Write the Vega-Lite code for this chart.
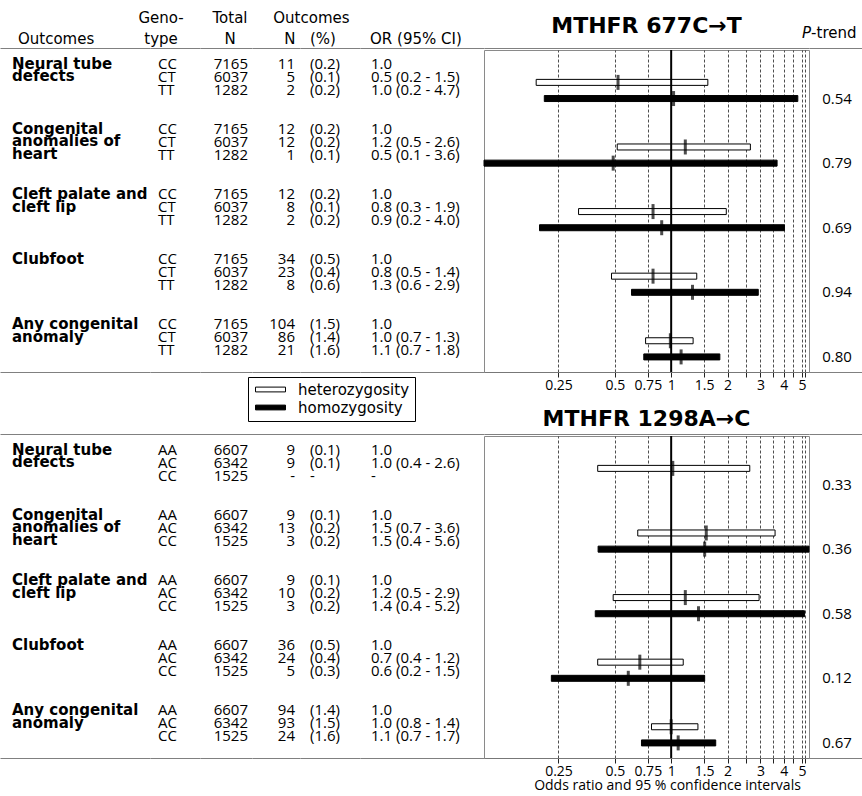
{
  "$schema": "https://vega.github.io/schema/vega-lite/v6.json",
  "padding": 0,
  "background": "white",
  "config": {
    "view": {"stroke": null},
    "font": "Open Sans",
    "text": {"font": "Open Sans", "fontSize": 15, "color": "black"},
    "axis": {"labelFont": "Open Sans", "titleFont": "Open Sans"},
    "legend": {"labelFont": "DejaVu Sans"},
    "concat": {"spacing": 0}
  },
  "datasets": {
    "header": [
      {"col": "outcome", "line": "l2", "text": "Outcomes"},
      {"col": "genotype", "line": "l1", "text": "Geno-"},
      {"col": "genotype", "line": "l2", "text": "type"},
      {"col": "total", "line": "l1", "text": "Total"},
      {"col": "total", "line": "l2", "text": "N"},
      {"col": "n", "line": "l2", "text": "N"},
      {"col": "pct", "line": "l1", "text": "Outcomes"},
      {"col": "pct", "line": "l2", "text": "(%)"},
      {"col": "or", "line": "l2", "text": "OR (95% CI)"},
      {"col": "title1", "line": "t", "text": "MTHFR 677C→T"},
      {"col": "title2", "line": "t", "text": "MTHFR 1298A→C"},
      {"col": "p", "line": "l2", "text": "P"},
      {"col": "p", "line": "l2", "text": "-trend"}
    ],
    "c677t": [
      {"outcome": "Neural tube\ndefects", "level": "reference", "genotype": "CC", "total": "7165", "n": "11", "pct": "(0.2)", "ortext": "1.0", "or": 1},
      {"outcome": "Neural tube\ndefects", "level": "heterozygosity", "genotype": "CT", "total": "6037", "n": "5", "pct": "(0.1)", "ortext": "0.5 (0.2 - 1.5)", "or": 0.52, "lo": 0.19, "hi": 1.57},
      {"outcome": "Neural tube\ndefects", "level": "homozygosity", "genotype": "TT", "total": "1282", "n": "2", "pct": "(0.2)", "ortext": "1.0 (0.2 - 4.7)", "or": 1.03, "lo": 0.21, "hi": 4.75, "p": "0.54"},
      {"outcome": "Congenital\nanomalies of\nheart", "level": "reference", "genotype": "CC", "total": "7165", "n": "12", "pct": "(0.2)", "ortext": "1.0", "or": 1},
      {"outcome": "Congenital\nanomalies of\nheart", "level": "heterozygosity", "genotype": "CT", "total": "6037", "n": "12", "pct": "(0.2)", "ortext": "1.2 (0.5 - 2.6)", "or": 1.19, "lo": 0.515, "hi": 2.65},
      {"outcome": "Congenital\nanomalies of\nheart", "level": "homozygosity", "genotype": "TT", "total": "1282", "n": "1", "pct": "(0.1)", "ortext": "0.5 (0.1 - 3.6)", "or": 0.49, "lo": 0.1, "hi": 3.68, "p": "0.79"},
      {"outcome": "Cleft palate and\ncleft lip", "level": "reference", "genotype": "CC", "total": "7165", "n": "12", "pct": "(0.2)", "ortext": "1.0", "or": 1},
      {"outcome": "Cleft palate and\ncleft lip", "level": "heterozygosity", "genotype": "CT", "total": "6037", "n": "8", "pct": "(0.1)", "ortext": "0.8 (0.3 - 1.9)", "or": 0.8, "lo": 0.32, "hi": 1.97},
      {"outcome": "Cleft palate and\ncleft lip", "level": "homozygosity", "genotype": "TT", "total": "1282", "n": "2", "pct": "(0.2)", "ortext": "0.9 (0.2 - 4.0)", "or": 0.89, "lo": 0.198, "hi": 4.03, "p": "0.69"},
      {"outcome": "Clubfoot", "level": "reference", "genotype": "CC", "total": "7165", "n": "34", "pct": "(0.5)", "ortext": "1.0", "or": 1},
      {"outcome": "Clubfoot", "level": "heterozygosity", "genotype": "CT", "total": "6037", "n": "23", "pct": "(0.4)", "ortext": "0.8 (0.5 - 1.4)", "or": 0.8, "lo": 0.48, "hi": 1.37},
      {"outcome": "Clubfoot", "level": "homozygosity", "genotype": "TT", "total": "1282", "n": "8", "pct": "(0.6)", "ortext": "1.3 (0.6 - 2.9)", "or": 1.3, "lo": 0.614, "hi": 2.92, "p": "0.94"},
      {"outcome": "Any congenital\nanomaly", "level": "reference", "genotype": "CC", "total": "7165", "n": "104", "pct": "(1.5)", "ortext": "1.0", "or": 1},
      {"outcome": "Any congenital\nanomaly", "level": "heterozygosity", "genotype": "CT", "total": "6037", "n": "86", "pct": "(1.4)", "ortext": "1.0 (0.7 - 1.3)", "or": 0.99, "lo": 0.73, "hi": 1.31},
      {"outcome": "Any congenital\nanomaly", "level": "homozygosity", "genotype": "TT", "total": "1282", "n": "21", "pct": "(1.6)", "ortext": "1.1 (0.7 - 1.8)", "or": 1.13, "lo": 0.714, "hi": 1.82, "p": "0.80"}
    ],
    "a1298c": [
      {"outcome": "Neural tube\ndefects", "level": "reference", "genotype": "AA", "total": "6607", "n": "9", "pct": "(0.1)", "ortext": "1.0", "or": 1},
      {"outcome": "Neural tube\ndefects", "level": "heterozygosity", "genotype": "AC", "total": "6342", "n": "9", "pct": "(0.1)", "ortext": "1.0 (0.4 - 2.6)", "or": 1.02, "lo": 0.405, "hi": 2.63},
      {"outcome": "Neural tube\ndefects", "level": "homozygosity", "genotype": "CC", "total": "1525", "n": "-", "pct": "-", "ortext": "-", "p": "0.33"},
      {"outcome": "Congenital\nanomalies of\nheart", "level": "reference", "genotype": "AA", "total": "6607", "n": "9", "pct": "(0.1)", "ortext": "1.0", "or": 1},
      {"outcome": "Congenital\nanomalies of\nheart", "level": "heterozygosity", "genotype": "AC", "total": "6342", "n": "13", "pct": "(0.2)", "ortext": "1.5 (0.7 - 3.6)", "or": 1.54, "lo": 0.663, "hi": 3.59},
      {"outcome": "Congenital\nanomalies of\nheart", "level": "homozygosity", "genotype": "CC", "total": "1525", "n": "3", "pct": "(0.2)", "ortext": "1.5 (0.4 - 5.6)", "or": 1.51, "lo": 0.407, "hi": 5.6, "p": "0.36"},
      {"outcome": "Cleft palate and\ncleft lip", "level": "reference", "genotype": "AA", "total": "6607", "n": "9", "pct": "(0.1)", "ortext": "1.0", "or": 1},
      {"outcome": "Cleft palate and\ncleft lip", "level": "heterozygosity", "genotype": "AC", "total": "6342", "n": "10", "pct": "(0.2)", "ortext": "1.2 (0.5 - 2.9)", "or": 1.19, "lo": 0.49, "hi": 2.95},
      {"outcome": "Cleft palate and\ncleft lip", "level": "homozygosity", "genotype": "CC", "total": "1525", "n": "3", "pct": "(0.2)", "ortext": "1.4 (0.4 - 5.2)", "or": 1.4, "lo": 0.393, "hi": 5.16, "p": "0.58"},
      {"outcome": "Clubfoot", "level": "reference", "genotype": "AA", "total": "6607", "n": "36", "pct": "(0.5)", "ortext": "1.0", "or": 1},
      {"outcome": "Clubfoot", "level": "heterozygosity", "genotype": "AC", "total": "6342", "n": "24", "pct": "(0.4)", "ortext": "0.7 (0.4 - 1.2)", "or": 0.68, "lo": 0.405, "hi": 1.16},
      {"outcome": "Clubfoot", "level": "homozygosity", "genotype": "CC", "total": "1525", "n": "5", "pct": "(0.3)", "ortext": "0.6 (0.2 - 1.5)", "or": 0.59, "lo": 0.229, "hi": 1.51, "p": "0.12"},
      {"outcome": "Any congenital\nanomaly", "level": "reference", "genotype": "AA", "total": "6607", "n": "94", "pct": "(1.4)", "ortext": "1.0", "or": 1},
      {"outcome": "Any congenital\nanomaly", "level": "heterozygosity", "genotype": "AC", "total": "6342", "n": "93", "pct": "(1.5)", "ortext": "1.0 (0.8 - 1.4)", "or": 1.0, "lo": 0.785, "hi": 1.39},
      {"outcome": "Any congenital\nanomaly", "level": "homozygosity", "genotype": "CC", "total": "1525", "n": "24", "pct": "(1.6)", "ortext": "1.1 (0.7 - 1.7)", "or": 1.09, "lo": 0.694, "hi": 1.73, "p": "0.67"}
    ]
  },
  "spacing": 0,
  "resolve": {"scale": {"x": "independent", "y": "independent"}},
  "vconcat": [
    {
      "spacing": 0,
      "bounds": "flush",
      "resolve": {"scale": {"x": "independent", "y": "independent"}},
      "hconcat": [
        {"width": 150, "height": 48, "data": {"name": "header"}, "transform": [{"filter": "datum.col == 'outcome'"}],
         "mark": {"type": "text", "align": "left", "baseline": "alphabetic", "dy": 5, "font": "DejaVu Sans"},
         "encoding": {
           "x": {"datum": "outcome", "type": "nominal", "bandPosition": 0.12, "scale": {"type": "band", "paddingInner": 0, "paddingOuter": 0}, "axis": {"domain": true, "domainColor": "#808080", "ticks": false, "labels": false, "title": null, "grid": false}},
           "y": {"field": "line", "type": "nominal", "axis": null, "scale": {"type": "point", "domain": ["l1", "l2"], "padding": 0.643, "align": 0.667}},
           "text": {"field": "text", "type": "nominal"}}},
        {"width": 50, "height": 48, "data": {"name": "header"}, "transform": [{"filter": "datum.col == 'genotype'"}],
         "mark": {"type": "text", "align": "center", "baseline": "alphabetic", "dy": 5, "font": "DejaVu Sans"},
         "encoding": {
           "x": {"datum": "genotype", "type": "nominal", "bandPosition": 0.22, "scale": {"type": "band", "paddingInner": 0, "paddingOuter": 0}, "axis": {"domain": true, "domainColor": "#808080", "ticks": false, "labels": false, "title": null, "grid": false}},
           "y": {"field": "line", "type": "nominal", "axis": null, "scale": {"type": "point", "domain": ["l1", "l2"], "padding": 0.643, "align": 0.667}},
           "text": {"field": "text", "type": "nominal"}}},
        {"width": 52, "height": 48, "data": {"name": "header"}, "transform": [{"filter": "datum.col == 'total'"}],
         "mark": {"type": "text", "align": "center", "baseline": "alphabetic", "dy": 5, "font": "DejaVu Sans"},
         "encoding": {
           "x": {"datum": "total", "type": "nominal", "bandPosition": 0.577, "scale": {"type": "band", "paddingInner": 0, "paddingOuter": 0}, "axis": {"domain": true, "domainColor": "#808080", "ticks": false, "labels": false, "title": null, "grid": false}},
           "y": {"field": "line", "type": "nominal", "axis": null, "scale": {"type": "point", "domain": ["l1", "l2"], "padding": 0.643, "align": 0.667}},
           "text": {"field": "text", "type": "nominal"}}},
        {"width": 48, "height": 48, "data": {"name": "header"}, "transform": [{"filter": "datum.col == 'n'"}],
         "mark": {"type": "text", "align": "center", "baseline": "alphabetic", "dy": 5, "font": "DejaVu Sans"},
         "encoding": {
           "x": {"datum": "n", "type": "nominal", "bandPosition": 0.79, "scale": {"type": "band", "paddingInner": 0, "paddingOuter": 0}, "axis": {"domain": true, "domainColor": "#808080", "ticks": false, "labels": false, "title": null, "grid": false}},
           "y": {"field": "line", "type": "nominal", "axis": null, "scale": {"type": "point", "domain": ["l1", "l2"], "padding": 0.643, "align": 0.667}},
           "text": {"field": "text", "type": "nominal"}}},
        {"width": 60, "height": 48, "data": {"name": "header"}, "transform": [{"filter": "datum.col == 'pct'"}],
         "encoding": {
           "y": {"field": "line", "type": "nominal", "axis": null, "scale": {"type": "point", "domain": ["l1", "l2"], "padding": 0.643, "align": 0.667}},
           "text": {"field": "text", "type": "nominal"}},
         "layer": [
           {"transform": [{"filter": "datum.line == 'l1'"}],
            "mark": {"type": "text", "align": "center", "baseline": "alphabetic", "dy": 5, "font": "DejaVu Sans"},
            "encoding": {"x": {"datum": "pct", "type": "nominal", "bandPosition": 0.19, "scale": {"type": "band", "paddingInner": 0, "paddingOuter": 0}, "axis": {"domain": true, "domainColor": "#808080", "ticks": false, "labels": false, "title": null, "grid": false}}}},
           {"transform": [{"filter": "datum.line == 'l2'"}],
            "mark": {"type": "text", "align": "left", "baseline": "alphabetic", "dy": 5, "font": "DejaVu Sans"},
            "encoding": {"x": {"datum": "pct", "type": "nominal", "bandPosition": 0.167}}}
         ]},
        {"width": 124, "height": 48, "data": {"name": "header"}, "transform": [{"filter": "datum.col == 'or'"}],
         "mark": {"type": "text", "align": "left", "baseline": "alphabetic", "dy": 5, "font": "DejaVu Sans"},
         "encoding": {
           "x": {"datum": "or", "type": "nominal", "bandPosition": 0.081, "scale": {"type": "band", "paddingInner": 0, "paddingOuter": 0}, "axis": {"domain": true, "domainColor": "#808080", "ticks": false, "labels": false, "title": null, "grid": false}},
           "y": {"field": "line", "type": "nominal", "axis": null, "scale": {"type": "point", "domain": ["l1", "l2"], "padding": 0.643, "align": 0.667}},
           "text": {"field": "text", "type": "nominal"}}},
        {"width": 325, "height": 48, "data": {"name": "header"}, "transform": [{"filter": "datum.col == 'title1'"}],
         "mark": {"type": "text", "align": "center", "baseline": "alphabetic", "dy": 8, "fontSize": 22, "fontWeight": "bold", "font": "DejaVu Sans"},
         "encoding": {
           "x": {"datum": "forest", "type": "nominal", "bandPosition": 0.5, "scale": {"type": "band", "paddingInner": 0, "paddingOuter": 0}, "axis": {"domain": true, "domainColor": "#808080", "ticks": false, "labels": false, "title": null, "grid": false}},
           "y": {"field": "line", "type": "nominal", "axis": null, "scale": {"type": "point", "domain": ["t"], "padding": 0.5, "align": 0.52}},
           "text": {"field": "text", "type": "nominal"}}},
        {"width": 53, "height": 48, "data": {"name": "header"}, "transform": [{"filter": "datum.col == 'p'"}],
         "encoding": {
           "x": {"datum": "p", "type": "nominal", "bandPosition": 0.04, "scale": {"type": "band", "paddingInner": 0, "paddingOuter": 0}, "axis": {"domain": true, "domainColor": "#808080", "ticks": false, "labels": false, "title": null, "grid": false}},
           "y": {"field": "line", "type": "nominal", "axis": null, "scale": {"type": "point", "domain": ["l1", "l2"], "padding": 0.643, "align": 0.667}},
           "text": {"field": "text", "type": "nominal"}},
         "layer": [
           {"transform": [{"filter": "datum.text == 'P'"}], "mark": {"type": "text", "align": "right", "baseline": "alphabetic", "dy": -1, "fontStyle": "italic", "font": "DejaVu Sans"}},
           {"transform": [{"filter": "datum.text != 'P'"}], "mark": {"type": "text", "align": "left", "baseline": "alphabetic", "dy": -1, "font": "DejaVu Sans"}}
         ]}
      ]
    },
    {
      "spacing": 0,
      "bounds": "flush",
      "resolve": {"scale": {"x": "independent", "y": "independent"}},
      "hconcat": [
        {"width": 150, "height": 322, "data": {"name": "c677t"}, "transform": [{"calculate": "datum.outcome + '|' + datum.level", "as": "row"}, {"filter": "datum.level == 'reference'"}],
         "mark": {"type": "text", "align": "left", "baseline": "alphabetic", "dy": 3, "font": "DejaVu Sans", "fontWeight": "bold", "lineBreak": "\n", "lineHeight": 12.7},
         "encoding": {
           "x": {"datum": "outcome", "type": "nominal", "bandPosition": 0.08, "scale": {"type": "band", "paddingInner": 0, "paddingOuter": 0}, "axis": {"domain": true, "domainColor": "#808080", "ticks": false, "labels": false, "title": null, "grid": false}},
           "y": {"field": "row", "type": "nominal", "axis": null, "scale": {"type": "band", "round": false, "domain": ["Neural tube\ndefects|reference", "Neural tube\ndefects|heterozygosity", "Neural tube\ndefects|homozygosity", "s1", "s2", "Congenital\nanomalies of\nheart|reference", "Congenital\nanomalies of\nheart|heterozygosity", "Congenital\nanomalies of\nheart|homozygosity", "s3", "s4", "Cleft palate and\ncleft lip|reference", "Cleft palate and\ncleft lip|heterozygosity", "Cleft palate and\ncleft lip|homozygosity", "s5", "s6", "Clubfoot|reference", "Clubfoot|heterozygosity", "Clubfoot|homozygosity", "s7", "s8", "Any congenital\nanomaly|reference", "Any congenital\nanomaly|heterozygosity", "Any congenital\nanomaly|homozygosity"], "paddingInner": 0, "paddingOuter": 0.88, "align": 0.404}},
           "text": {"field": "outcome", "type": "nominal"}}},
        {"width": 50, "height": 322, "data": {"name": "c677t"}, "transform": [{"calculate": "datum.outcome + '|' + datum.level", "as": "row"}],
         "mark": {"type": "text", "align": "left", "baseline": "alphabetic", "dy": 3},
         "encoding": {
           "x": {"datum": "genotype", "type": "nominal", "bandPosition": 0.16, "scale": {"type": "band", "paddingInner": 0, "paddingOuter": 0}, "axis": {"domain": true, "domainColor": "#808080", "ticks": false, "labels": false, "title": null, "grid": false}},
           "y": {"field": "row", "type": "nominal", "axis": null, "scale": {"type": "band", "round": false, "domain": ["Neural tube\ndefects|reference", "Neural tube\ndefects|heterozygosity", "Neural tube\ndefects|homozygosity", "s1", "s2", "Congenital\nanomalies of\nheart|reference", "Congenital\nanomalies of\nheart|heterozygosity", "Congenital\nanomalies of\nheart|homozygosity", "s3", "s4", "Cleft palate and\ncleft lip|reference", "Cleft palate and\ncleft lip|heterozygosity", "Cleft palate and\ncleft lip|homozygosity", "s5", "s6", "Clubfoot|reference", "Clubfoot|heterozygosity", "Clubfoot|homozygosity", "s7", "s8", "Any congenital\nanomaly|reference", "Any congenital\nanomaly|heterozygosity", "Any congenital\nanomaly|homozygosity"], "paddingInner": 0, "paddingOuter": 0.88, "align": 0.404}},
           "text": {"field": "genotype", "type": "nominal"}}},
        {"width": 52, "height": 322, "data": {"name": "c677t"}, "transform": [{"calculate": "datum.outcome + '|' + datum.level", "as": "row"}],
         "mark": {"type": "text", "align": "right", "baseline": "alphabetic", "dy": 3},
         "encoding": {
           "x": {"datum": "total", "type": "nominal", "bandPosition": 0.923, "scale": {"type": "band", "paddingInner": 0, "paddingOuter": 0}, "axis": {"domain": true, "domainColor": "#808080", "ticks": false, "labels": false, "title": null, "grid": false}},
           "y": {"field": "row", "type": "nominal", "axis": null, "scale": {"type": "band", "round": false, "domain": ["Neural tube\ndefects|reference", "Neural tube\ndefects|heterozygosity", "Neural tube\ndefects|homozygosity", "s1", "s2", "Congenital\nanomalies of\nheart|reference", "Congenital\nanomalies of\nheart|heterozygosity", "Congenital\nanomalies of\nheart|homozygosity", "s3", "s4", "Cleft palate and\ncleft lip|reference", "Cleft palate and\ncleft lip|heterozygosity", "Cleft palate and\ncleft lip|homozygosity", "s5", "s6", "Clubfoot|reference", "Clubfoot|heterozygosity", "Clubfoot|homozygosity", "s7", "s8", "Any congenital\nanomaly|reference", "Any congenital\nanomaly|heterozygosity", "Any congenital\nanomaly|homozygosity"], "paddingInner": 0, "paddingOuter": 0.88, "align": 0.404}},
           "text": {"field": "total", "type": "nominal"}}},
        {"width": 48, "height": 322, "data": {"name": "c677t"}, "transform": [{"calculate": "datum.outcome + '|' + datum.level", "as": "row"}],
         "mark": {"type": "text", "align": "right", "baseline": "alphabetic", "dy": 3},
         "encoding": {
           "x": {"datum": "n", "type": "nominal", "bandPosition": 0.896, "scale": {"type": "band", "paddingInner": 0, "paddingOuter": 0}, "axis": {"domain": true, "domainColor": "#808080", "ticks": false, "labels": false, "title": null, "grid": false}},
           "y": {"field": "row", "type": "nominal", "axis": null, "scale": {"type": "band", "round": false, "domain": ["Neural tube\ndefects|reference", "Neural tube\ndefects|heterozygosity", "Neural tube\ndefects|homozygosity", "s1", "s2", "Congenital\nanomalies of\nheart|reference", "Congenital\nanomalies of\nheart|heterozygosity", "Congenital\nanomalies of\nheart|homozygosity", "s3", "s4", "Cleft palate and\ncleft lip|reference", "Cleft palate and\ncleft lip|heterozygosity", "Cleft palate and\ncleft lip|homozygosity", "s5", "s6", "Clubfoot|reference", "Clubfoot|heterozygosity", "Clubfoot|homozygosity", "s7", "s8", "Any congenital\nanomaly|reference", "Any congenital\nanomaly|heterozygosity", "Any congenital\nanomaly|homozygosity"], "paddingInner": 0, "paddingOuter": 0.88, "align": 0.404}},
           "text": {"field": "n", "type": "nominal"}}},
        {"width": 60, "height": 322, "data": {"name": "c677t"}, "transform": [{"calculate": "datum.outcome + '|' + datum.level", "as": "row"}],
         "mark": {"type": "text", "align": "left", "baseline": "alphabetic", "dy": 3},
         "encoding": {
           "x": {"datum": "pct", "type": "nominal", "bandPosition": 0.167, "scale": {"type": "band", "paddingInner": 0, "paddingOuter": 0}, "axis": {"domain": true, "domainColor": "#808080", "ticks": false, "labels": false, "title": null, "grid": false}},
           "y": {"field": "row", "type": "nominal", "axis": null, "scale": {"type": "band", "round": false, "domain": ["Neural tube\ndefects|reference", "Neural tube\ndefects|heterozygosity", "Neural tube\ndefects|homozygosity", "s1", "s2", "Congenital\nanomalies of\nheart|reference", "Congenital\nanomalies of\nheart|heterozygosity", "Congenital\nanomalies of\nheart|homozygosity", "s3", "s4", "Cleft palate and\ncleft lip|reference", "Cleft palate and\ncleft lip|heterozygosity", "Cleft palate and\ncleft lip|homozygosity", "s5", "s6", "Clubfoot|reference", "Clubfoot|heterozygosity", "Clubfoot|homozygosity", "s7", "s8", "Any congenital\nanomaly|reference", "Any congenital\nanomaly|heterozygosity", "Any congenital\nanomaly|homozygosity"], "paddingInner": 0, "paddingOuter": 0.88, "align": 0.404}},
           "text": {"field": "pct", "type": "nominal"}}},
        {"width": 124, "height": 322, "data": {"name": "c677t"}, "transform": [{"calculate": "datum.outcome + '|' + datum.level", "as": "row"}],
         "mark": {"type": "text", "align": "left", "baseline": "alphabetic", "dy": 3},
         "encoding": {
           "x": {"datum": "or", "type": "nominal", "bandPosition": 0.089, "scale": {"type": "band", "paddingInner": 0, "paddingOuter": 0}, "axis": {"domain": true, "domainColor": "#808080", "ticks": false, "labels": false, "title": null, "grid": false}},
           "y": {"field": "row", "type": "nominal", "axis": null, "scale": {"type": "band", "round": false, "domain": ["Neural tube\ndefects|reference", "Neural tube\ndefects|heterozygosity", "Neural tube\ndefects|homozygosity", "s1", "s2", "Congenital\nanomalies of\nheart|reference", "Congenital\nanomalies of\nheart|heterozygosity", "Congenital\nanomalies of\nheart|homozygosity", "s3", "s4", "Cleft palate and\ncleft lip|reference", "Cleft palate and\ncleft lip|heterozygosity", "Cleft palate and\ncleft lip|homozygosity", "s5", "s6", "Clubfoot|reference", "Clubfoot|heterozygosity", "Clubfoot|homozygosity", "s7", "s8", "Any congenital\nanomaly|reference", "Any congenital\nanomaly|heterozygosity", "Any congenital\nanomaly|homozygosity"], "paddingInner": 0, "paddingOuter": 0.88, "align": 0.404}},
           "text": {"field": "ortext", "type": "nominal"}}},
        {"width": 325, "height": 322,
         "view": {"stroke": "#8a8a8a", "strokeWidth": 1},
         "data": {"name": "c677t"},
         "layer": [
           {"transform": [{"calculate": "datum.outcome + '|' + datum.level", "as": "row"}, {"filter": "isValid(datum.lo)"}],
            "mark": {"type": "bar", "height": 6, "stroke": "black", "strokeWidth": 1},
            "encoding": {
              "x": {"field": "lo", "type": "quantitative", "scale": {"type": "log", "domain": [0.1, 5.45], "nice": false, "clamp": true},
                    "axis": {"values": [0.25, 0.5, 0.75, 1, 1.5, 2, 2.5, 3, 3.5, 4, 4.5, 5, 5.2], "labelExpr": "indexof([0.25,0.5,0.75,1,1.5,2,3,4,5], datum.value) >= 0 ? datum.value + '' : ''", "grid": true, "gridDash": [3, 2], "gridColor": "#222222", "gridWidth": 0.8, "ticks": true, "tickSize": 5, "tickColor": "#222222", "domain": true, "domainColor": "#777777", "labelFontSize": 14, "labelColor": "black", "labelOverlap": false, "labelPadding": 1, "labelFlush": false, "title": null}},
              "x2": {"field": "hi"},
              "y": {"field": "row", "type": "nominal", "axis": null, "scale": {"type": "band", "round": false, "domain": ["Neural tube\ndefects|heterozygosity", "Neural tube\ndefects|homozygosity", "s1", "s2", "Congenital\nanomalies of\nheart|heterozygosity", "Congenital\nanomalies of\nheart|homozygosity", "s3", "s4", "Cleft palate and\ncleft lip|heterozygosity", "Cleft palate and\ncleft lip|homozygosity", "s5", "s6", "Clubfoot|heterozygosity", "Clubfoot|homozygosity", "s7", "s8", "Any congenital\nanomaly|heterozygosity", "Any congenital\nanomaly|homozygosity"], "paddingInner": 0, "paddingOuter": 0.97, "align": 0.776}},
              "fill": {"field": "level", "type": "nominal", "scale": {"domain": ["heterozygosity", "homozygosity"], "range": ["white", "black"]},
                       "legend": {"orient": "none", "legendX": 248, "legendY": 377, "title": null, "direction": "vertical", "symbolType": "M-2.5,-0.4H2.5V0.4H-2.5Z", "symbolSize": 144, "symbolOffset": 10, "symbolStrokeColor": "black", "symbolStrokeWidth": 1, "labelFontSize": 15, "labelColor": "black", "labelOffset": 20, "rowPadding": 2, "strokeColor": "black", "padding": 5}}}},
           {"data": {"values": [{"or": 1}]},
            "mark": {"type": "rule", "color": "black", "strokeWidth": 2},
            "encoding": {"x": {"field": "or", "type": "quantitative"}}},
           {"transform": [{"calculate": "datum.outcome + '|' + datum.level", "as": "row"}, {"filter": "isValid(datum.lo)"}],
            "mark": {"type": "tick", "orient": "vertical", "size": 15, "thickness": 3, "color": "black"},
            "encoding": {
              "x": {"field": "or", "type": "quantitative"},
              "y": {"field": "row", "type": "nominal", "axis": null}}}
         ]},
        {"width": 53, "height": 322, "data": {"name": "c677t"}, "transform": [{"calculate": "datum.outcome + '|' + datum.level", "as": "row"}, {"filter": "datum.level == 'homozygosity'"}],
         "mark": {"type": "text", "align": "center", "baseline": "alphabetic", "dy": 5},
         "encoding": {
           "x": {"datum": "p", "type": "nominal", "bandPosition": 0.53, "scale": {"type": "band", "paddingInner": 0, "paddingOuter": 0}, "axis": {"domain": true, "domainColor": "#808080", "ticks": false, "labels": false, "title": null, "grid": false}},
           "y": {"field": "row", "type": "nominal", "axis": null, "scale": {"type": "band", "round": false, "domain": ["Neural tube\ndefects|heterozygosity", "Neural tube\ndefects|homozygosity", "s1", "s2", "Congenital\nanomalies of\nheart|heterozygosity", "Congenital\nanomalies of\nheart|homozygosity", "s3", "s4", "Cleft palate and\ncleft lip|heterozygosity", "Cleft palate and\ncleft lip|homozygosity", "s5", "s6", "Clubfoot|heterozygosity", "Clubfoot|homozygosity", "s7", "s8", "Any congenital\nanomaly|heterozygosity", "Any congenital\nanomaly|homozygosity"], "paddingInner": 0, "paddingOuter": 0.97, "align": 0.776}},
           "text": {"field": "p", "type": "nominal"}}}
      ]
    },
    {
      "spacing": 0,
      "bounds": "flush",
      "resolve": {"scale": {"x": "independent", "y": "independent"}},
      "hconcat": [
        {"width": 484, "height": 41, "data": {"name": "header"}, "transform": [{"filter": "datum.col == 'none'"}],
         "mark": {"type": "text"},
         "encoding": {
           "x": {"datum": "left", "type": "nominal", "scale": {"type": "band", "paddingInner": 0, "paddingOuter": 0}, "axis": {"domain": true, "domainColor": "#808080", "ticks": false, "labels": false, "title": null, "grid": false}},
           "text": {"field": "text", "type": "nominal"}}},
        {"width": 325, "height": 41, "data": {"name": "header"}, "transform": [{"filter": "datum.col == 'title2'"}],
         "mark": {"type": "text", "align": "center", "baseline": "alphabetic", "dy": 8, "fontSize": 22, "fontWeight": "bold", "font": "DejaVu Sans"},
         "encoding": {
           "x": {"datum": "forest", "type": "nominal", "bandPosition": 0.5, "scale": {"type": "band", "paddingInner": 0, "paddingOuter": 0}, "axis": {"domain": true, "domainColor": "#808080", "ticks": false, "labels": false, "title": null, "grid": false}},
           "y": {"field": "line", "type": "nominal", "axis": null, "scale": {"type": "point", "domain": ["t"], "padding": 0.5, "align": 0.6}},
           "text": {"field": "text", "type": "nominal"}}},
        {"width": 53, "height": 41, "data": {"name": "header"}, "transform": [{"filter": "datum.col == 'none'"}],
         "mark": {"type": "text"},
         "encoding": {
           "x": {"datum": "right", "type": "nominal", "scale": {"type": "band", "paddingInner": 0, "paddingOuter": 0}, "axis": {"domain": true, "domainColor": "#808080", "ticks": false, "labels": false, "title": null, "grid": false}},
           "text": {"field": "text", "type": "nominal"}}}
      ]
    },
    {
      "spacing": 0,
      "bounds": "flush",
      "resolve": {"scale": {"x": "independent", "y": "independent"}},
      "hconcat": [
        {"width": 150, "height": 322, "data": {"name": "a1298c"}, "transform": [{"calculate": "datum.outcome + '|' + datum.level", "as": "row"}, {"filter": "datum.level == 'reference'"}],
         "mark": {"type": "text", "align": "left", "baseline": "alphabetic", "dy": 3, "font": "DejaVu Sans", "fontWeight": "bold", "lineBreak": "\n", "lineHeight": 12.7},
         "encoding": {
           "x": {"datum": "outcome", "type": "nominal", "bandPosition": 0.08, "scale": {"type": "band", "paddingInner": 0, "paddingOuter": 0}, "axis": {"domain": true, "domainColor": "#808080", "ticks": false, "labels": false, "title": null, "grid": false}},
           "y": {"field": "row", "type": "nominal", "axis": null, "scale": {"type": "band", "round": false, "domain": ["Neural tube\ndefects|reference", "Neural tube\ndefects|heterozygosity", "Neural tube\ndefects|homozygosity", "s1", "s2", "Congenital\nanomalies of\nheart|reference", "Congenital\nanomalies of\nheart|heterozygosity", "Congenital\nanomalies of\nheart|homozygosity", "s3", "s4", "Cleft palate and\ncleft lip|reference", "Cleft palate and\ncleft lip|heterozygosity", "Cleft palate and\ncleft lip|homozygosity", "s5", "s6", "Clubfoot|reference", "Clubfoot|heterozygosity", "Clubfoot|homozygosity", "s7", "s8", "Any congenital\nanomaly|reference", "Any congenital\nanomaly|heterozygosity", "Any congenital\nanomaly|homozygosity"], "paddingInner": 0, "paddingOuter": 0.88, "align": 0.404}},
           "text": {"field": "outcome", "type": "nominal"}}},
        {"width": 50, "height": 322, "data": {"name": "a1298c"}, "transform": [{"calculate": "datum.outcome + '|' + datum.level", "as": "row"}],
         "mark": {"type": "text", "align": "left", "baseline": "alphabetic", "dy": 3},
         "encoding": {
           "x": {"datum": "genotype", "type": "nominal", "bandPosition": 0.16, "scale": {"type": "band", "paddingInner": 0, "paddingOuter": 0}, "axis": {"domain": true, "domainColor": "#808080", "ticks": false, "labels": false, "title": null, "grid": false}},
           "y": {"field": "row", "type": "nominal", "axis": null, "scale": {"type": "band", "round": false, "domain": ["Neural tube\ndefects|reference", "Neural tube\ndefects|heterozygosity", "Neural tube\ndefects|homozygosity", "s1", "s2", "Congenital\nanomalies of\nheart|reference", "Congenital\nanomalies of\nheart|heterozygosity", "Congenital\nanomalies of\nheart|homozygosity", "s3", "s4", "Cleft palate and\ncleft lip|reference", "Cleft palate and\ncleft lip|heterozygosity", "Cleft palate and\ncleft lip|homozygosity", "s5", "s6", "Clubfoot|reference", "Clubfoot|heterozygosity", "Clubfoot|homozygosity", "s7", "s8", "Any congenital\nanomaly|reference", "Any congenital\nanomaly|heterozygosity", "Any congenital\nanomaly|homozygosity"], "paddingInner": 0, "paddingOuter": 0.88, "align": 0.404}},
           "text": {"field": "genotype", "type": "nominal"}}},
        {"width": 52, "height": 322, "data": {"name": "a1298c"}, "transform": [{"calculate": "datum.outcome + '|' + datum.level", "as": "row"}],
         "mark": {"type": "text", "align": "right", "baseline": "alphabetic", "dy": 3},
         "encoding": {
           "x": {"datum": "total", "type": "nominal", "bandPosition": 0.923, "scale": {"type": "band", "paddingInner": 0, "paddingOuter": 0}, "axis": {"domain": true, "domainColor": "#808080", "ticks": false, "labels": false, "title": null, "grid": false}},
           "y": {"field": "row", "type": "nominal", "axis": null, "scale": {"type": "band", "round": false, "domain": ["Neural tube\ndefects|reference", "Neural tube\ndefects|heterozygosity", "Neural tube\ndefects|homozygosity", "s1", "s2", "Congenital\nanomalies of\nheart|reference", "Congenital\nanomalies of\nheart|heterozygosity", "Congenital\nanomalies of\nheart|homozygosity", "s3", "s4", "Cleft palate and\ncleft lip|reference", "Cleft palate and\ncleft lip|heterozygosity", "Cleft palate and\ncleft lip|homozygosity", "s5", "s6", "Clubfoot|reference", "Clubfoot|heterozygosity", "Clubfoot|homozygosity", "s7", "s8", "Any congenital\nanomaly|reference", "Any congenital\nanomaly|heterozygosity", "Any congenital\nanomaly|homozygosity"], "paddingInner": 0, "paddingOuter": 0.88, "align": 0.404}},
           "text": {"field": "total", "type": "nominal"}}},
        {"width": 48, "height": 322, "data": {"name": "a1298c"}, "transform": [{"calculate": "datum.outcome + '|' + datum.level", "as": "row"}],
         "mark": {"type": "text", "align": "right", "baseline": "alphabetic", "dy": 3},
         "encoding": {
           "x": {"datum": "n", "type": "nominal", "bandPosition": 0.896, "scale": {"type": "band", "paddingInner": 0, "paddingOuter": 0}, "axis": {"domain": true, "domainColor": "#808080", "ticks": false, "labels": false, "title": null, "grid": false}},
           "y": {"field": "row", "type": "nominal", "axis": null, "scale": {"type": "band", "round": false, "domain": ["Neural tube\ndefects|reference", "Neural tube\ndefects|heterozygosity", "Neural tube\ndefects|homozygosity", "s1", "s2", "Congenital\nanomalies of\nheart|reference", "Congenital\nanomalies of\nheart|heterozygosity", "Congenital\nanomalies of\nheart|homozygosity", "s3", "s4", "Cleft palate and\ncleft lip|reference", "Cleft palate and\ncleft lip|heterozygosity", "Cleft palate and\ncleft lip|homozygosity", "s5", "s6", "Clubfoot|reference", "Clubfoot|heterozygosity", "Clubfoot|homozygosity", "s7", "s8", "Any congenital\nanomaly|reference", "Any congenital\nanomaly|heterozygosity", "Any congenital\nanomaly|homozygosity"], "paddingInner": 0, "paddingOuter": 0.88, "align": 0.404}},
           "text": {"field": "n", "type": "nominal"}}},
        {"width": 60, "height": 322, "data": {"name": "a1298c"}, "transform": [{"calculate": "datum.outcome + '|' + datum.level", "as": "row"}],
         "mark": {"type": "text", "align": "left", "baseline": "alphabetic", "dy": 3},
         "encoding": {
           "x": {"datum": "pct", "type": "nominal", "bandPosition": 0.167, "scale": {"type": "band", "paddingInner": 0, "paddingOuter": 0}, "axis": {"domain": true, "domainColor": "#808080", "ticks": false, "labels": false, "title": null, "grid": false}},
           "y": {"field": "row", "type": "nominal", "axis": null, "scale": {"type": "band", "round": false, "domain": ["Neural tube\ndefects|reference", "Neural tube\ndefects|heterozygosity", "Neural tube\ndefects|homozygosity", "s1", "s2", "Congenital\nanomalies of\nheart|reference", "Congenital\nanomalies of\nheart|heterozygosity", "Congenital\nanomalies of\nheart|homozygosity", "s3", "s4", "Cleft palate and\ncleft lip|reference", "Cleft palate and\ncleft lip|heterozygosity", "Cleft palate and\ncleft lip|homozygosity", "s5", "s6", "Clubfoot|reference", "Clubfoot|heterozygosity", "Clubfoot|homozygosity", "s7", "s8", "Any congenital\nanomaly|reference", "Any congenital\nanomaly|heterozygosity", "Any congenital\nanomaly|homozygosity"], "paddingInner": 0, "paddingOuter": 0.88, "align": 0.404}},
           "text": {"field": "pct", "type": "nominal"}}},
        {"width": 124, "height": 322, "data": {"name": "a1298c"}, "transform": [{"calculate": "datum.outcome + '|' + datum.level", "as": "row"}],
         "mark": {"type": "text", "align": "left", "baseline": "alphabetic", "dy": 3},
         "encoding": {
           "x": {"datum": "or", "type": "nominal", "bandPosition": 0.089, "scale": {"type": "band", "paddingInner": 0, "paddingOuter": 0}, "axis": {"domain": true, "domainColor": "#808080", "ticks": false, "labels": false, "title": null, "grid": false}},
           "y": {"field": "row", "type": "nominal", "axis": null, "scale": {"type": "band", "round": false, "domain": ["Neural tube\ndefects|reference", "Neural tube\ndefects|heterozygosity", "Neural tube\ndefects|homozygosity", "s1", "s2", "Congenital\nanomalies of\nheart|reference", "Congenital\nanomalies of\nheart|heterozygosity", "Congenital\nanomalies of\nheart|homozygosity", "s3", "s4", "Cleft palate and\ncleft lip|reference", "Cleft palate and\ncleft lip|heterozygosity", "Cleft palate and\ncleft lip|homozygosity", "s5", "s6", "Clubfoot|reference", "Clubfoot|heterozygosity", "Clubfoot|homozygosity", "s7", "s8", "Any congenital\nanomaly|reference", "Any congenital\nanomaly|heterozygosity", "Any congenital\nanomaly|homozygosity"], "paddingInner": 0, "paddingOuter": 0.88, "align": 0.404}},
           "text": {"field": "ortext", "type": "nominal"}}},
        {"width": 325, "height": 322,
         "view": {"stroke": "#8a8a8a", "strokeWidth": 1},
         "data": {"name": "a1298c"},
         "layer": [
           {"transform": [{"calculate": "datum.outcome + '|' + datum.level", "as": "row"}, {"filter": "isValid(datum.lo)"}],
            "mark": {"type": "bar", "height": 6, "stroke": "black", "strokeWidth": 1},
            "encoding": {
              "x": {"field": "lo", "type": "quantitative", "scale": {"type": "log", "domain": [0.1, 5.45], "nice": false, "clamp": true},
                    "axis": {"values": [0.25, 0.5, 0.75, 1, 1.5, 2, 2.5, 3, 3.5, 4, 4.5, 5, 5.2], "labelExpr": "indexof([0.25,0.5,0.75,1,1.5,2,3,4,5], datum.value) >= 0 ? datum.value + '' : ''", "grid": true, "gridDash": [3, 2], "gridColor": "#222222", "gridWidth": 0.8, "ticks": true, "tickSize": 5, "tickColor": "#222222", "domain": true, "domainColor": "#777777", "labelFontSize": 14, "labelColor": "black", "labelOverlap": false, "labelPadding": 1, "labelFlush": false, "title": "Odds ratio and 95 % confidence intervals", "titleX": 183, "titleFontSize": 14, "titleFontWeight": "normal", "titleColor": "black", "titlePadding": 0}},
              "x2": {"field": "hi"},
              "y": {"field": "row", "type": "nominal", "axis": null, "scale": {"type": "band", "round": false, "domain": ["Neural tube\ndefects|heterozygosity", "Neural tube\ndefects|homozygosity", "s1", "s2", "Congenital\nanomalies of\nheart|heterozygosity", "Congenital\nanomalies of\nheart|homozygosity", "s3", "s4", "Cleft palate and\ncleft lip|heterozygosity", "Cleft palate and\ncleft lip|homozygosity", "s5", "s6", "Clubfoot|heterozygosity", "Clubfoot|homozygosity", "s7", "s8", "Any congenital\nanomaly|heterozygosity", "Any congenital\nanomaly|homozygosity"], "paddingInner": 0, "paddingOuter": 0.97, "align": 0.776}},
              "fill": {"field": "level", "type": "nominal", "scale": {"domain": ["heterozygosity", "homozygosity"], "range": ["white", "black"]},
                       "legend": {"orient": "none", "legendX": 248, "legendY": 377, "title": null, "direction": "vertical", "symbolType": "M-2.5,-0.4H2.5V0.4H-2.5Z", "symbolSize": 144, "symbolOffset": 10, "symbolStrokeColor": "black", "symbolStrokeWidth": 1, "labelFontSize": 15, "labelColor": "black", "labelOffset": 20, "rowPadding": 2, "strokeColor": "black", "padding": 5}}}},
           {"data": {"values": [{"or": 1}]},
            "mark": {"type": "rule", "color": "black", "strokeWidth": 2},
            "encoding": {"x": {"field": "or", "type": "quantitative"}}},
           {"transform": [{"calculate": "datum.outcome + '|' + datum.level", "as": "row"}, {"filter": "isValid(datum.lo)"}],
            "mark": {"type": "tick", "orient": "vertical", "size": 15, "thickness": 3, "color": "black"},
            "encoding": {
              "x": {"field": "or", "type": "quantitative"},
              "y": {"field": "row", "type": "nominal", "axis": null}}}
         ]},
        {"width": 53, "height": 322, "data": {"name": "a1298c"}, "transform": [{"calculate": "datum.outcome + '|' + datum.level", "as": "row"}, {"filter": "datum.level == 'homozygosity'"}],
         "mark": {"type": "text", "align": "center", "baseline": "alphabetic", "dy": 5},
         "encoding": {
           "x": {"datum": "p", "type": "nominal", "bandPosition": 0.53, "scale": {"type": "band", "paddingInner": 0, "paddingOuter": 0}, "axis": {"domain": true, "domainColor": "#808080", "ticks": false, "labels": false, "title": null, "grid": false}},
           "y": {"field": "row", "type": "nominal", "axis": null, "scale": {"type": "band", "round": false, "domain": ["Neural tube\ndefects|heterozygosity", "Neural tube\ndefects|homozygosity", "s1", "s2", "Congenital\nanomalies of\nheart|heterozygosity", "Congenital\nanomalies of\nheart|homozygosity", "s3", "s4", "Cleft palate and\ncleft lip|heterozygosity", "Cleft palate and\ncleft lip|homozygosity", "s5", "s6", "Clubfoot|heterozygosity", "Clubfoot|homozygosity", "s7", "s8", "Any congenital\nanomaly|heterozygosity", "Any congenital\nanomaly|homozygosity"], "paddingInner": 0, "paddingOuter": 0.97, "align": 0.776}},
           "text": {"field": "p", "type": "nominal"}}}
      ]
    }
  ]
}
